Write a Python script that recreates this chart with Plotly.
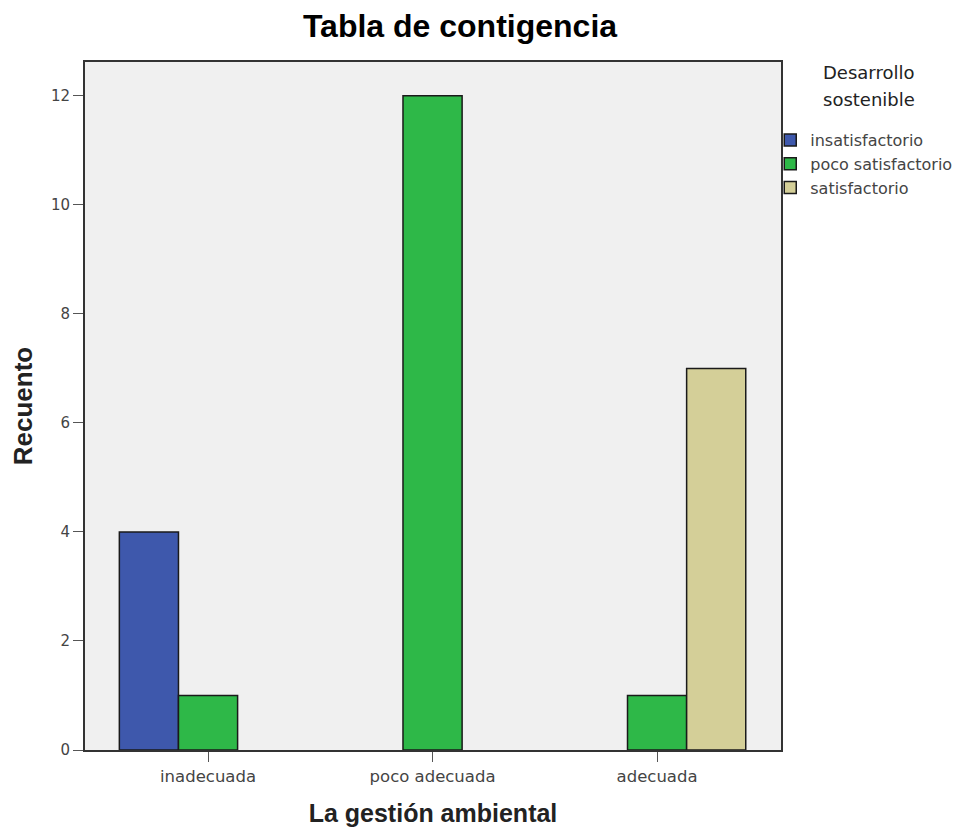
import plotly.graph_objects as go

categories = ["inadecuada", "poco adecuada", "adecuada"]
insatisfactorio = [4, 0, 0]
poco_satisfactorio = [1, 12, 1]
satisfactorio = [0, 0, 7]

series = [
    ("insatisfactorio", insatisfactorio, "#3e58ac"),
    ("poco satisfactorio", poco_satisfactorio, "#2eb848"),
    ("satisfactorio", satisfactorio, "#d4cf98"),
]

# page body has an 8px margin, so shift margins to land the plot where the reference has it
L, T, W, H = 77, 54, 696, 688

fig = go.Figure()
for name, vals, color in series:
    fig.add_trace(
        go.Bar(
            x=categories,
            y=[v if v else None for v in vals],
            name=name,
            marker=dict(color=color, line=dict(color="#1a1a1a", width=1.5)),
        )
    )

fig.update_layout(
    width=960,
    height=834,
    barmode="group",
    bargap=0.21,
    bargroupgap=0,
    plot_bgcolor="#f0f0f0",
    paper_bgcolor="white",
    margin=dict(l=L, r=960 - L - W, t=T, b=834 - T - H, autoexpand=False),
    font=dict(family="DejaVu Sans", size=15, color="#444"),
    title=dict(
        text="<b>Tabla de contigencia</b>",
        x=452 / 960,
        xanchor="center",
        y=1 - 18 / 834,
        yanchor="middle",
        font=dict(size=32, color="black", family="Liberation Sans, Arial"),
    ),
    xaxis=dict(
        title=dict(
            text="<b>La gestión ambiental</b>",
            font=dict(size=25, color="#222", family="Liberation Sans, Arial"),
            standoff=20,
        ),
        showline=True,
        linecolor="#333",
        linewidth=2,
        mirror=True,
        ticks="outside",
        ticklen=10,
        tickcolor="#555",
        range=[-0.548, 2.552],
        tickfont=dict(size=16.5, color="#444"),
    ),
    yaxis=dict(
        title=dict(
            text="<b>Recuento</b>",
            font=dict(size=26, color="#222", family="Liberation Sans, Arial"),
            standoff=18,
        ),
        showline=True,
        linecolor="#333",
        linewidth=2,
        mirror=True,
        showgrid=False,
        zeroline=False,
        ticks="outside",
        ticklen=10,
        tickcolor="#555",
        range=[0, 12.62],
        tickvals=[0, 2, 4, 6, 8, 10, 12],
        tickfont=dict(size=15, color="#444"),
    ),
    legend=dict(
        xref="container",
        yref="container",
        x=0.794,
        xanchor="left",
        y=0.862,
        yanchor="top",
        bgcolor="rgba(0,0,0,0)",
        font=dict(size=16, color="#444"),
        tracegroupgap=0,
        itemwidth=30,
    ),
    annotations=[
        dict(
            text=line,
            xref="paper",
            yref="paper",
            x=1.126,
            y=yy,
            xanchor="center",
            yanchor="middle",
            showarrow=False,
            font=dict(size=18, color="#222", family="DejaVu Sans"),
        )
        for line, yy in [("Desarrollo", 0.985), ("sostenible", 0.946)]
    ],
)

fig.write_html("out.html")
